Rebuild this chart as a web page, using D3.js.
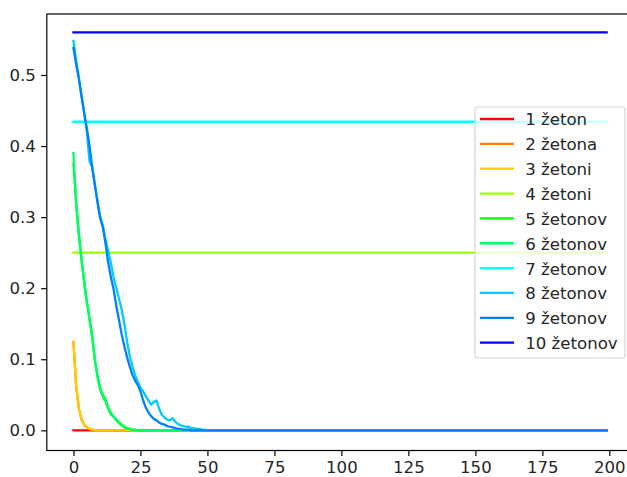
<!DOCTYPE html>
<html>
<head>
<meta charset="utf-8">
<script src="https://cdn.jsdelivr.net/npm/d3@7"></script>
<style>
  html, body { margin: 0; padding: 0; background: #fff; }
  svg { display: block; }
  text { font-family: "DejaVu Sans", sans-serif; }
</style>
</head>
<body>
<svg id="chart" width="627" height="477"></svg>
<script>
// Probability per step for each starting number of tokens.
// Each array lists the values at steps 0, 1, 2, ...; the last value holds to the final step.
const lastStep = 199;
const labels = ["1 žeton", "2 žetona", "3 žetoni", "4 žetoni", "5 žetonov",
                "6 žetonov", "7 žetonov", "8 žetonov", "9 žetonov", "10 žetonov"];

const s1 = [0];
const s2 = [0.124, 0.062, 0.031, 0.015, 0.008, 0.004, 0.002, 0.001, 0];
const s3 = [0.125, 0.0625, 0.031, 0.016, 0.008, 0.004, 0.002, 0.001, 0];
const s4 = [0.25];
const s5 = [0.375, 0.322, 0.278, 0.242, 0.21, 0.181, 0.158, 0.134, 0.098, 0.076,
            0.059, 0.05, 0.043, 0.032, 0.024, 0.019, 0.015, 0.011, 0.008, 0.005,
            0.003, 0.002, 0.001, 0.001, 0];
const s6 = [0.39, 0.318, 0.274, 0.24, 0.208, 0.179, 0.156, 0.13, 0.1, 0.074,
            0.057, 0.047, 0.04, 0.03, 0.022, 0.019, 0.014, 0.01, 0.007, 0.004,
            0.003, 0.002, 0.001, 0.0005, 0];
const s7 = [0.4342];
const s8 = [0.548, 0.52, 0.497, 0.472, 0.446, 0.42, 0.378, 0.37, 0.345, 0.322,
            0.3, 0.288, 0.268, 0.252, 0.235, 0.215, 0.2, 0.185, 0.17, 0.15,
            0.125, 0.105, 0.09, 0.078, 0.068, 0.06, 0.055, 0.048, 0.042, 0.036,
            0.04, 0.042, 0.03, 0.022, 0.018, 0.015, 0.014, 0.017, 0.012, 0.009,
            0.007, 0.006, 0.005, 0.005, 0.003, 0.003, 0.002, 0.002, 0.001, 0.001, 0];
const s9 = [0.538, 0.515, 0.495, 0.47, 0.447, 0.425, 0.4, 0.37, 0.345, 0.32,
            0.298, 0.285, 0.262, 0.235, 0.215, 0.198, 0.175, 0.155, 0.135, 0.118,
            0.103, 0.09, 0.078, 0.07, 0.064, 0.055, 0.042, 0.032, 0.025, 0.02,
            0.016, 0.014, 0.011, 0.009, 0.008, 0.006, 0.005, 0.004, 0.003, 0.002,
            0.002, 0.001, 0.001, 0.001, 0];
const s10 = [0.56];

const seriesValues = [s1, s2, s3, s4, s5, s6, s7, s8, s9, s10];
const colors = ["#ff0000", "#ff8000", "#ffcc00", "#99ff00", "#00ff00",
                "#00ff66", "#00ffff", "#00ccff", "#0080ff", "#0000ff"];

const xTicks = [0, 25, 50, 75, 100, 125, 150, 175, 200];
const yTicks = [0, 0.1, 0.2, 0.3, 0.4, 0.5];

// Plot frame
const frame = { left: 46.8, right: 633.3, top: 14, bottom: 450.5 };
const fontSize = 16.6;

const svg = d3.select("#chart");

const x = d3.scaleLinear().domain([-9.95, 208.95]).range([frame.left, frame.right]);
const y = d3.scaleLinear().domain([-0.0284, 0.5858]).range([frame.bottom, frame.top]);

svg.append("defs").append("clipPath").attr("id", "plotClip")
  .append("rect")
  .attr("x", frame.left).attr("y", frame.top)
  .attr("width", frame.right - frame.left).attr("height", frame.bottom - frame.top);

// Turn each value list into points, extended flat to the final step
function toPoints(vals) {
  const pts = vals.map((v, i) => [i, v]);
  pts.push([lastStep, vals[vals.length - 1]]);
  return pts;
}

const line = d3.line().x(d => x(d[0])).y(d => y(d[1]));

const plot = svg.append("g").attr("clip-path", "url(#plotClip)");
seriesValues.forEach((vals, i) => {
  plot.append("path")
    .datum(toPoints(vals))
    .attr("d", line)
    .attr("fill", "none")
    .attr("stroke", colors[i])
    .attr("stroke-width", 2.3)
    .attr("stroke-linecap", "square")
    .attr("stroke-linejoin", "round");
});

// Axes
const tickLen = 5.6;
const xAxis = svg.append("g")
  .attr("transform", `translate(0,${frame.bottom})`)
  .call(d3.axisBottom(x).tickValues(xTicks).tickFormat(d3.format("d"))
        .tickSize(tickLen).tickPadding(5.2));
const yAxis = svg.append("g")
  .attr("transform", `translate(${frame.left},0)`)
  .call(d3.axisLeft(y).tickValues(yTicks).tickFormat(d3.format(".1f"))
        .tickSize(tickLen).tickPadding(5.4));

[xAxis, yAxis].forEach(g => {
  g.select(".domain").remove();
  g.selectAll(".tick line").attr("stroke", "#000").attr("stroke-width", 1.2);
  g.selectAll(".tick text")
    .attr("fill", "#262626")
    .style("font-size", fontSize + "px")
    .style("font-family", "'DejaVu Sans', sans-serif");
});

// Frame (spines)
svg.append("rect")
  .attr("x", frame.left).attr("y", frame.top)
  .attr("width", frame.right - frame.left).attr("height", frame.bottom - frame.top)
  .attr("fill", "none").attr("stroke", "#000").attr("stroke-width", 1.2);

// Legend
const legend = { x: 475, y: 107, w: 150, h: 251, row0: 119, rowStep: 24.85 };
const lg = svg.append("g");
lg.append("rect")
  .attr("x", legend.x).attr("y", legend.y)
  .attr("width", legend.w).attr("height", legend.h)
  .attr("rx", 3).attr("ry", 3)
  .attr("fill", "#ffffff").attr("fill-opacity", 0.8)
  .attr("stroke", "#cccccc").attr("stroke-opacity", 0.8).attr("stroke-width", 1.2);

labels.forEach((lab, i) => {
  const ry = legend.row0 + i * legend.rowStep;
  lg.append("line")
    .attr("x1", 481.2).attr("x2", 512.8)
    .attr("y1", ry).attr("y2", ry)
    .attr("stroke", colors[i]).attr("stroke-width", 2.3)
    .attr("stroke-linecap", "square");
  lg.append("text")
    .attr("x", 525.2).attr("y", ry + 6.4)
    .attr("fill", "#262626")
    .style("font-size", fontSize + "px")
    .text(lab);
});
</script>
</body>
</html>
